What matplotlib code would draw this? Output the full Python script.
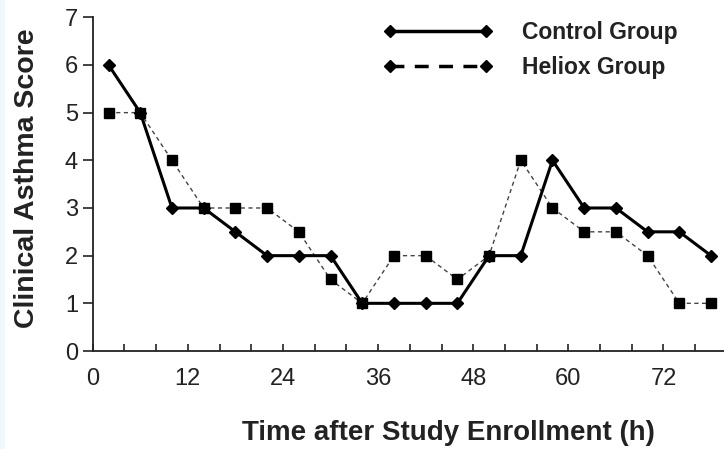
import matplotlib
matplotlib.use("Agg")
import matplotlib.pyplot as plt
from matplotlib.lines import Line2D
from matplotlib.patches import Rectangle

plt.rcParams['font.family'] = ['Liberation Sans', 'DejaVu Sans']

hours = [2, 6, 10, 14, 18, 22, 26, 30, 34, 38, 42, 46, 50, 54, 58, 62, 66, 70, 74, 78]
control = [6, 5, 3, 3, 2.5, 2, 2, 2, 1, 1, 1, 1, 2, 2, 4, 3, 3, 2.5, 2.5, 2]
heliox = [5, 5, 4, 3, 3, 3, 2.5, 1.5, 1, 2, 2, 1.5, 2, 4, 3, 2.5, 2.5, 2, 1, 1]
xticks = [0, 12, 24, 36, 48, 60, 72]
yticks = [0, 1, 2, 3, 4, 5, 6, 7]

W, H = 724, 449
fig = plt.figure(figsize=(W / 100, H / 100), dpi=100)
fig.patches.append(Rectangle((0, 0), 4.5 / W, 1, transform=fig.transFigure,
                             facecolor='#f1f8fc', edgecolor='none', zorder=-10))
left, right = 92.7, 726.9
top, bottom = 17.3, 351.0
ax = fig.add_axes([left / W, (H - bottom) / H, (right - left) / W, (bottom - top) / H])
ax.patch.set_alpha(0)

ax.plot(hours, heliox, color='#444444', lw=1.0, ls=(0, (3, 2.5)),
        marker='s', ms=7.5, mfc='black', mec='black', zorder=2)
ax.plot(hours, control, color='black', lw=2.2, ls='-',
        marker='D', ms=6, mfc='black', mec='black', zorder=3)

ax.set_xlim(0, 80)
ax.set_ylim(0, 7)
ax.set_xticks(xticks)
ax.set_xticks(list(range(0, 80, 4)), minor=True)
ax.set_yticks(yticks)
ax.tick_params(axis='both', which='both', length=5, width=1.2,
               labelsize=17, colors='#222222')
ax.tick_params(axis='x', which='both', direction='in', pad=12)
ax.tick_params(axis='y', which='both', direction='out', length=7, pad=3.5)
for s in ['top', 'right']:
    ax.spines[s].set_visible(False)
for s in ['left', 'bottom']:
    ax.spines[s].set_linewidth(1.3)
    ax.spines[s].set_color('#222222')

ax.set_xlabel('Time after Study Enrollment (h)', fontsize=20, fontweight='bold',
              labelpad=22, color='#222222')
ax.xaxis.label.set_x((448 - left) / (right - left))
ax.set_ylabel('Clinical Asthma Score', fontsize=20.5, fontweight='bold',
              labelpad=18, color='#222222')
ax.yaxis.label.set_y((bottom - 178) / (bottom - top))

handles = [
    Line2D([], [], color='black', lw=2.5, ls='-', marker='D', ms=6, mfc='black'),
    Line2D([], [], color='black', lw=2.5, ls=(0, (4, 3)), marker='D', ms=6, mfc='black'),
]
leg = ax.legend(handles, ['Control Group', 'Heliox Group'], loc='upper left',
                bbox_to_anchor=((383 - left) / (right - left), 1 - 4 / (bottom - top)),
                frameon=False, borderaxespad=0, borderpad=0,
                numpoints=2, handlelength=4.8, handletextpad=1.27, labelspacing=0.5,
                prop={'weight': 'bold', 'size': 16.5})
for t in leg.get_texts():
    t.set_color('#222222')

fig.savefig('out.png', dpi=100)
